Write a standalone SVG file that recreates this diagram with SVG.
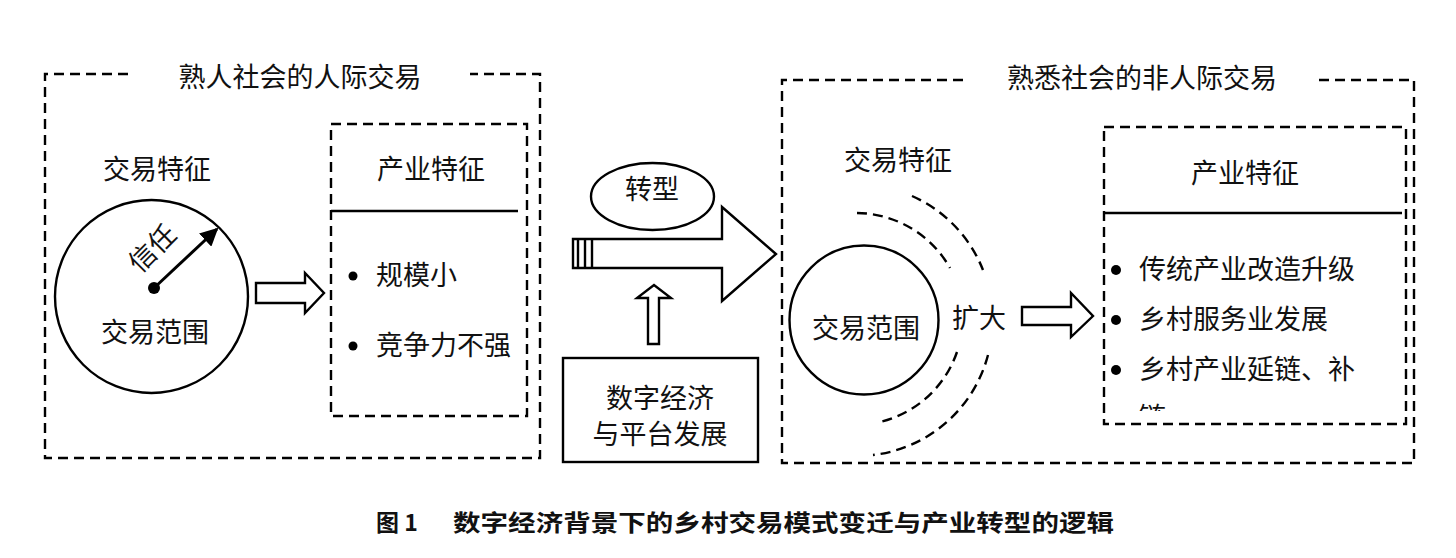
<svg xmlns="http://www.w3.org/2000/svg" width="1456" height="558" viewBox="0 0 1456 558">
<style>
text{font-family:"Noto Sans CJK SC","Noto Sans",sans-serif;fill:#111;font-size:27px;dominant-baseline:central}
.dash{fill:none;stroke:#000;stroke-width:2.4;stroke-dasharray:10,6}
.solid{fill:none;stroke:#000;stroke-width:2.4}
.hollow{fill:#fff;stroke:#000;stroke-width:2.4;stroke-linejoin:miter}
.cap{font-size:23px;font-weight:700}
</style>
<defs>
<marker id="tri" viewBox="0 0 10 10" refX="9" refY="5" markerWidth="6" markerHeight="6" orient="auto" markerUnits="strokeWidth">
<path d="M0,0 L10,5 L0,10 z" fill="#000"/>
</marker>
<clipPath id="clipLast"><rect x="1100" y="380" width="300" height="31"/></clipPath>
</defs>
<rect width="1456" height="558" fill="#fff"/>

<g id="left-group">
<path class="dash" d="M128,74 L45,74 L45,458 L540,458 L540,74 L470,74"/>
<text x="300" y="75" text-anchor="middle">熟人社会的人际交易</text>
</g>

<g id="left-trade">
<text x="157" y="167" text-anchor="middle">交易特征</text>
<circle class="solid" cx="151.5" cy="296.5" r="96.5"/>
<circle cx="154" cy="288" r="6" fill="#000"/>
<text x="151" y="247" text-anchor="middle" transform="rotate(-45 151 247)">信任</text>
<text x="155" y="330" text-anchor="middle">交易范围</text>
</g>

<g id="left-industry">
<rect class="dash" x="331" y="124" width="196" height="292"/>
<line class="solid" x1="331" y1="211" x2="518" y2="211"/>
<text x="431" y="167" text-anchor="middle">产业特征</text>
<circle cx="353" cy="276" r="4.5" fill="#000"/>
<text x="376" y="273">规模小</text>
<circle cx="353" cy="346" r="4.5" fill="#000"/>
<text x="376" y="343">竞争力不强</text>
</g>

<g id="transform">
<ellipse class="solid" cx="652.5" cy="196.5" rx="61.5" ry="33.5"/>
<text x="652" y="187" text-anchor="middle">转型</text>
</g>

<g id="digital">
<rect class="solid" x="563" y="358" width="195" height="104"/>
<text x="660" y="396" text-anchor="middle">数字经济</text>
<text x="660" y="432" text-anchor="middle">与平台发展</text>
</g>

<g id="right-group">
<path class="dash" d="M963,80 L782,80 L782,463 L1414,463 L1414,80 L1319,80"/>
<text x="1142" y="76" text-anchor="middle">熟悉社会的非人际交易</text>
</g>

<g id="right-trade">
<text x="898" y="158" text-anchor="middle">交易特征</text>
<circle class="solid" cx="864" cy="320" r="74.5"/>
<text x="866" y="326" text-anchor="middle">交易范围</text>
<path class="dash" d="M857,213 A108,108 0 0,1 950,268"/>
<path class="dash" d="M912,196 A135,135 0 0,1 983,270"/>
<path class="dash" d="M957,352 A108,108 0 0,1 880,422"/>
<path class="dash" d="M988,355 A135,135 0 0,1 873,455"/>
<text x="952" y="316">扩大</text>
</g>

<g id="right-industry">
<rect class="dash" x="1104" y="127" width="302" height="297"/>
<line class="solid" x1="1104" y1="213" x2="1402" y2="213"/>
<text x="1245" y="171" text-anchor="middle">产业特征</text>
<circle cx="1116" cy="270" r="5" fill="#000"/>
<text x="1139" y="267">传统产业改造升级</text>
<circle cx="1116" cy="320" r="5" fill="#000"/>
<text x="1139" y="317">乡村服务业发展</text>
<circle cx="1116" cy="370" r="5" fill="#000"/>
<text x="1139" y="367">乡村产业延链、补</text>
<text x="1139" y="415" clip-path="url(#clipLast)">链</text>
</g>

<g id="connectors">
<line x1="154" y1="288" x2="217" y2="229" stroke="#000" stroke-width="3" marker-end="url(#tri)"/>
<path class="hollow" d="M256,283 L305,283 L305,273 L324,293 L305,313 L305,303 L256,303 Z"/>
<path class="hollow" d="M573,239 L722,239 L722,207 L776,254 L722,301 L722,268 L573,268 Z"/>
<line class="solid" x1="578" y1="239" x2="578" y2="268"/>
<line class="solid" x1="585" y1="239" x2="585" y2="268"/>
<line class="solid" x1="592" y1="239" x2="592" y2="268"/>
<path class="hollow" d="M648,344 L648,298 L637,298 L654,285 L671,298 L659,298 L659,344 Z"/>
<path class="hollow" d="M1022,307 L1071,307 L1071,293 L1093,316 L1071,337 L1071,325 L1022,325 Z"/>
</g>

<g id="caption">
<text class="cap" x="376" y="521">图 1</text>
<text class="cap" x="453" y="521" textLength="661" lengthAdjust="spacingAndGlyphs">数字经济背景下的乡村交易模式变迁与产业转型的逻辑</text>
</g>
</svg>
